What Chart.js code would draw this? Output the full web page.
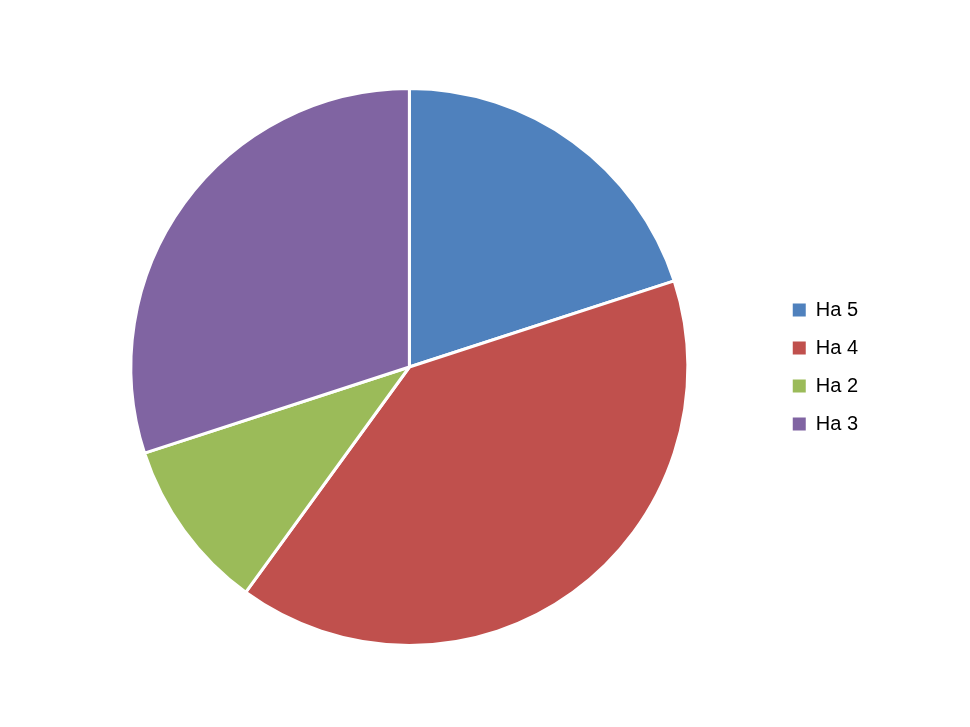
<!DOCTYPE html>
<html>
<head>
<meta charset="utf-8">
<script src="https://cdn.jsdelivr.net/npm/chart.js@4/dist/chart.umd.min.js"></script>
<style>
  html, body { margin: 0; padding: 0; background: #fff; }
  #wrap { width: 970px; height: 727px; }
</style>
</head>
<body>
<div id="wrap"><canvas id="pie-chart" width="970" height="727"></canvas></div>
<script>
// data
const labels = ['Ha 5', 'Ha 4', 'Ha 2', 'Ha 3'];
const values = [20, 40, 10, 30];
const colors = ['#4F81BD', '#C0504D', '#9BBB59', '#8064A2'];

const pieConfig = {
  type: 'pie',
  data: {
    labels: labels,
    datasets: [
      {
        data: values,
        backgroundColor: colors,
        borderColor: '#ffffff',
        borderWidth: 3,
      },
    ],
  },
  options: {
    responsive: false,
    animation: false,
    layout: {
      padding: { left: 44, right: 102, top: 87, bottom: 80 },
    },
    plugins: {
      legend: {
        position: 'right',
        labels: {
          boxWidth: 13,
          boxHeight: 13,
          padding: 18,
          color: '#000',
          font: { family: 'Liberation Sans', size: 20 },
          // no white outline on the legend squares
          generateLabels: function (chart) {
            const items = Chart.controllers.pie.overrides.plugins.legend.labels.generateLabels(chart);
            items.forEach(function (item) {
              item.lineWidth = 0;
            });
            return items;
          },
        },
      },
      tooltip: { enabled: false },
    },
  },
};

let ctx = document.getElementById('pie-chart');
const pieChart = new Chart(ctx, pieConfig);
</script>
</body>
</html>
